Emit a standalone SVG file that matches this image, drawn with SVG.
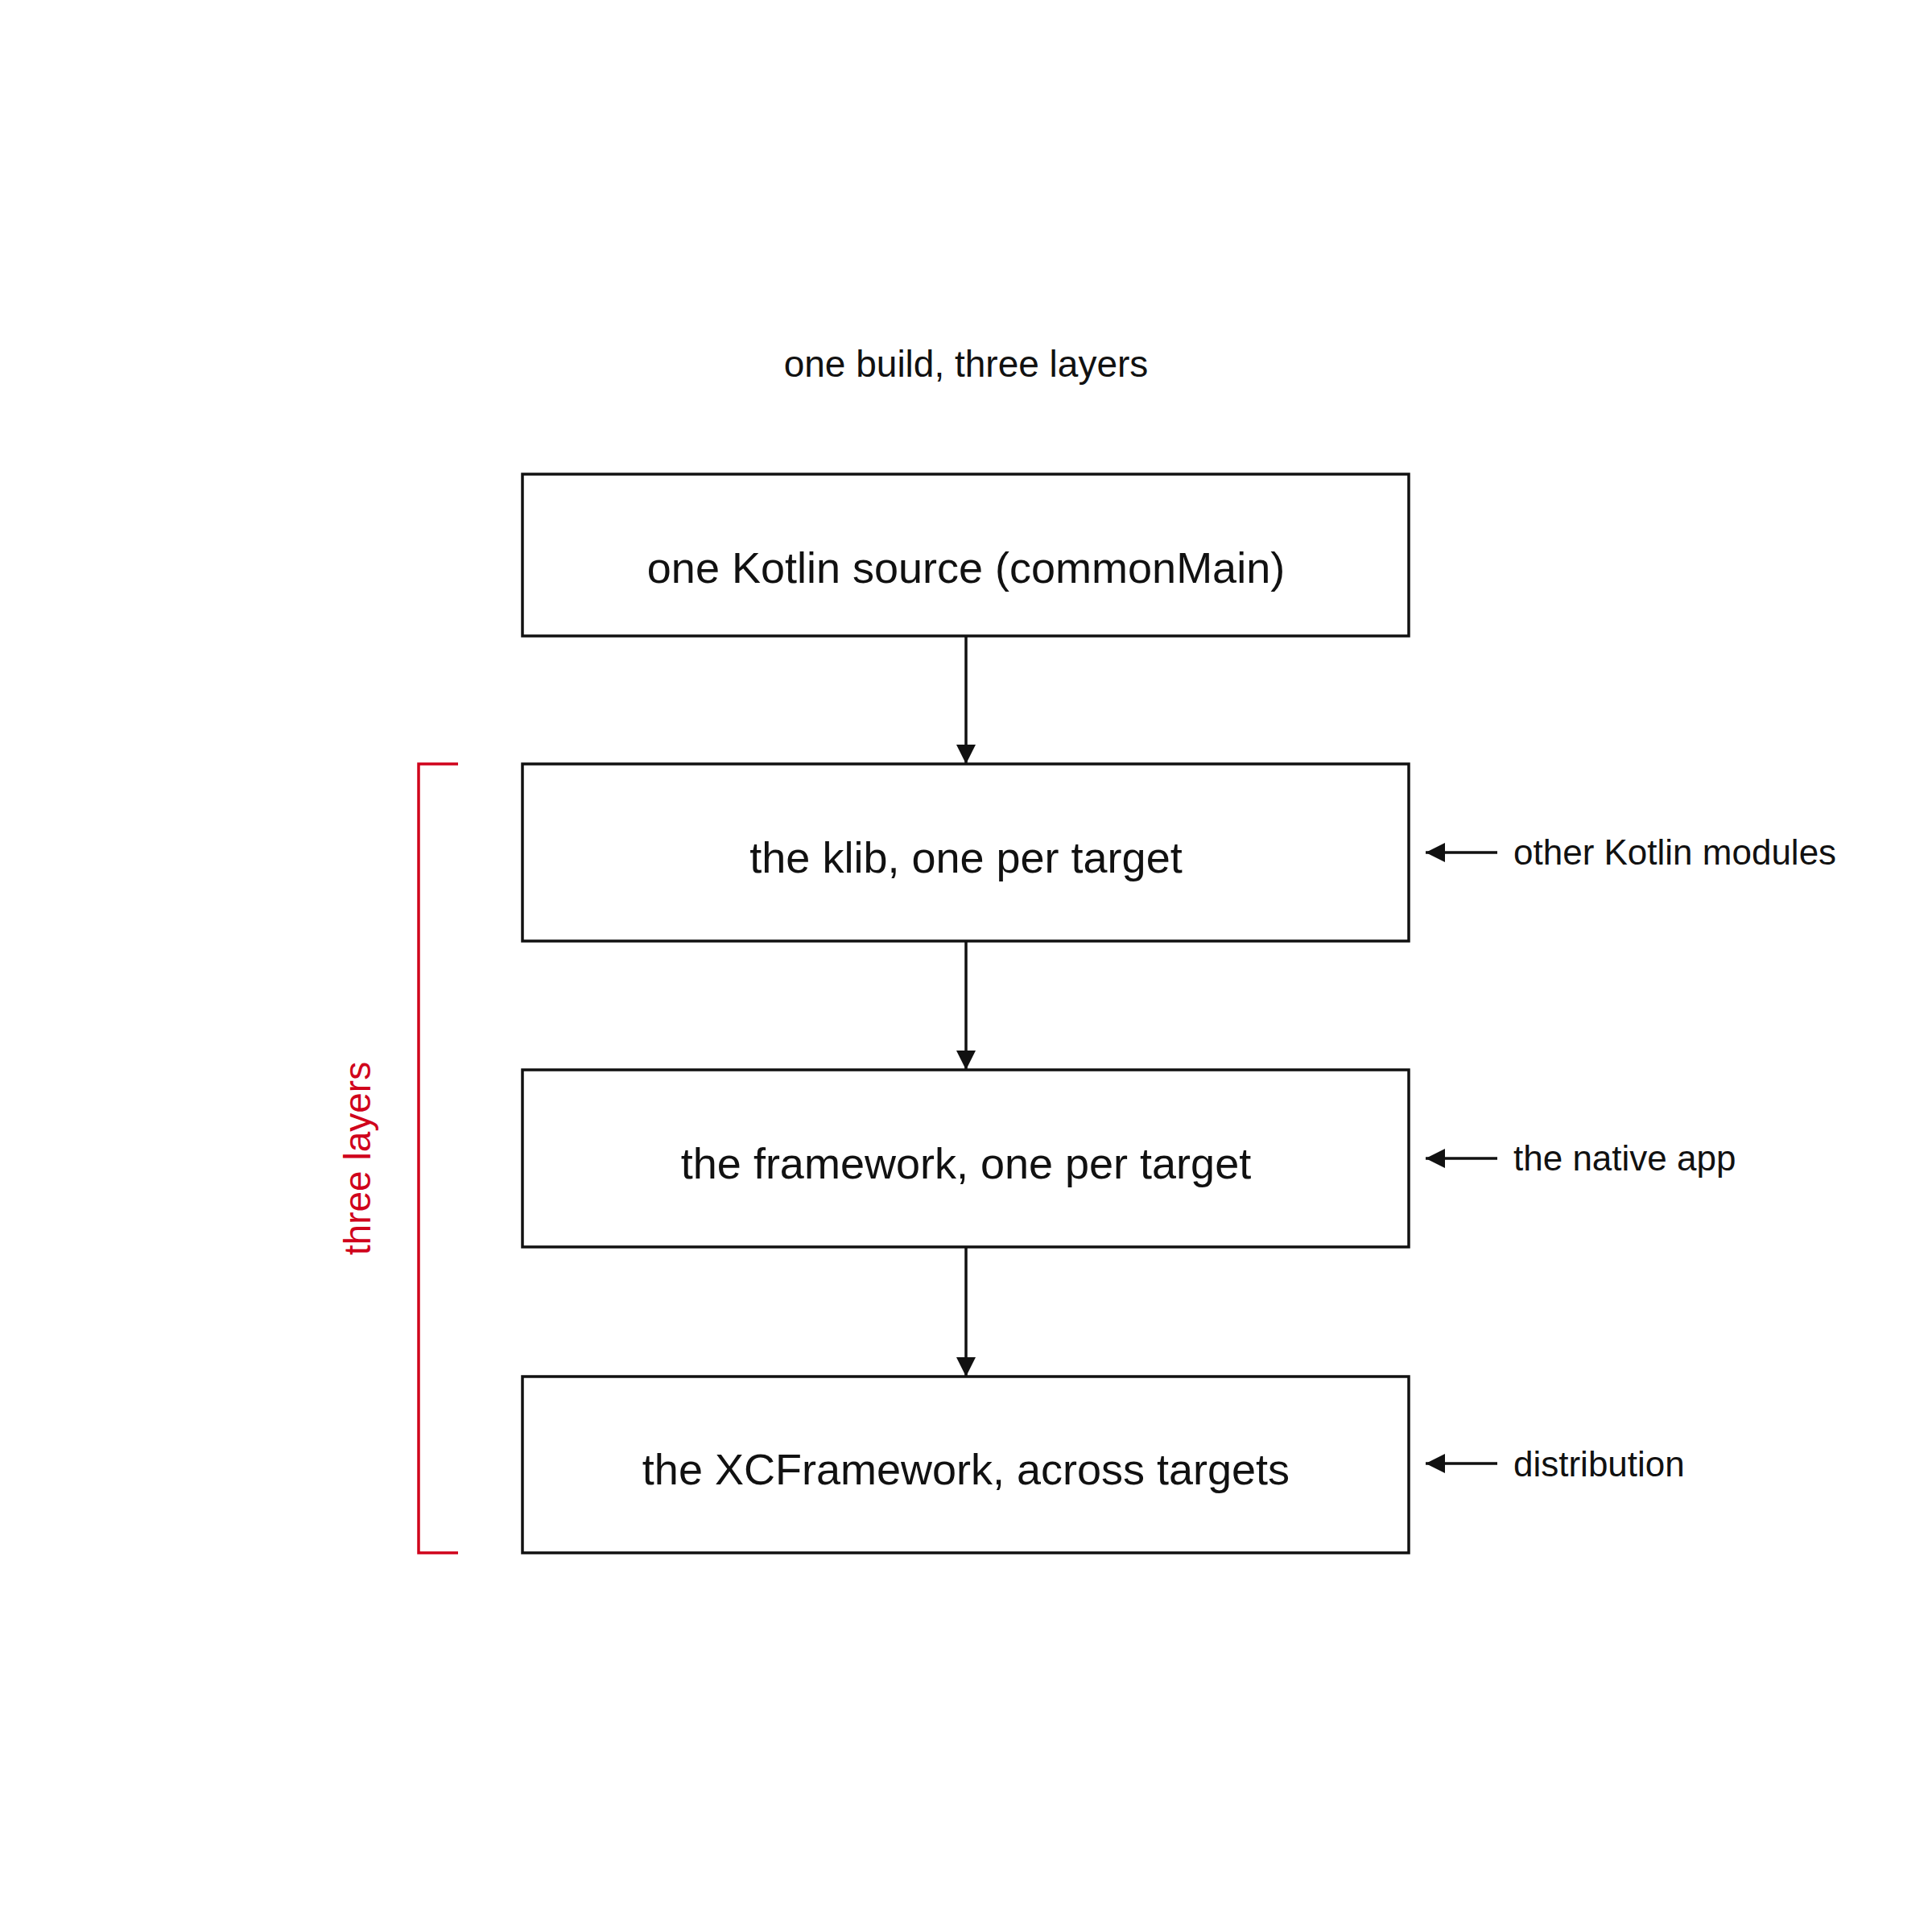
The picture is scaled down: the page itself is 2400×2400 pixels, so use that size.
<svg xmlns="http://www.w3.org/2000/svg" width="2400" height="2400" viewBox="0 0 2400 2400">
<style>
text{font-family:"Liberation Sans",Arial,sans-serif;fill:#111}
.box rect{fill:#fff;stroke:#111;stroke-width:3.5}
.box text{font-size:54px;text-anchor:middle}
.lbl{font-size:44px}
.c{stroke:#111;stroke-width:3.5;fill:none}
</style>
<defs>
<marker id="ah" markerWidth="10" markerHeight="10" refX="9" refY="5" orient="auto" markerUnits="userSpaceOnUse" viewBox="0 0 10 10"><path d="M0,0 L10,5 L0,10 Z" fill="#111"/></marker>
<marker id="a2" viewBox="0 0 10 10" refX="10" refY="5" markerWidth="26" markerHeight="24" orient="auto" markerUnits="userSpaceOnUse"><path d="M0,0 L10,5 L0,10 Z" fill="#111"/></marker>
</defs>
<rect width="2400" height="2400" fill="#fff"/>
<text x="1200" y="468" font-size="46" text-anchor="middle">one build, three layers</text>
<g id="n1" class="box"><rect x="649" y="589" width="1101" height="201"/><text x="1200" y="724">one Kotlin source (commonMain)</text></g>
<g id="n2" class="box"><rect x="649" y="949" width="1101" height="220"/><text x="1200" y="1084">the klib, one per target</text></g>
<g id="n3" class="box"><rect x="649" y="1329" width="1101" height="220"/><text x="1200" y="1464">the framework, one per target</text></g>
<g id="n4" class="box"><rect x="649" y="1710" width="1101" height="219"/><text x="1200" y="1844">the XCFramework, across targets</text></g>
<g id="connectors">
<line class="c" x1="1200" y1="790" x2="1200" y2="949" marker-end="url(#a2)"/>
<line class="c" x1="1200" y1="1169" x2="1200" y2="1329" marker-end="url(#a2)"/>
<line class="c" x1="1200" y1="1549" x2="1200" y2="1710" marker-end="url(#a2)"/>
<line class="c" x1="1860" y1="1059" x2="1771" y2="1059" marker-end="url(#a2)"/>
<line class="c" x1="1860" y1="1439" x2="1771" y2="1439" marker-end="url(#a2)"/>
<line class="c" x1="1860" y1="1818" x2="1771" y2="1818" marker-end="url(#a2)"/>
</g>
<text class="lbl" x="1880" y="1074">other Kotlin modules</text>
<text class="lbl" x="1880" y="1454">the native app</text>
<text class="lbl" x="1880" y="1834">distribution</text>
<g id="bracket">
<path d="M569,949 H520 V1929 H569" fill="none" stroke="#d0021b" stroke-width="3.5"/>
<text x="0" y="0" font-size="46" text-anchor="middle" style="fill:#d0021b" transform="translate(460,1439) rotate(-90)">three layers</text>
</g>
</svg>
